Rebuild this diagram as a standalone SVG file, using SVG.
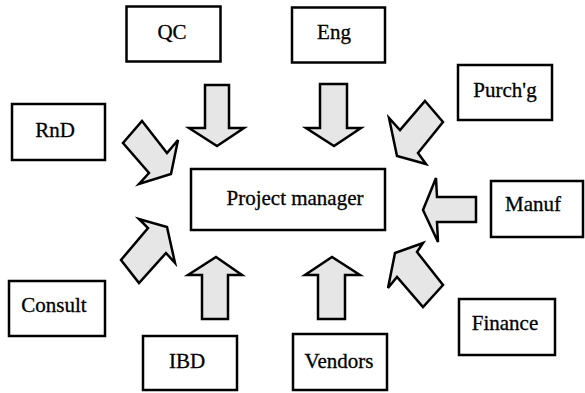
<svg xmlns="http://www.w3.org/2000/svg" width="585" height="393" viewBox="0 0 585 393">
<style>
.box{fill:#fff;stroke:#000;stroke-width:2.5}
.arr{fill:#e6e6e6;stroke:#000;stroke-width:2.5;stroke-linejoin:miter}
</style>
<rect width="585" height="393" fill="#fff"/>
<g id="connectors">
<polygon class="arr" points="205,85 229,85 229,128 244,128 217,146 189,128 205,128"/>
<polygon class="arr" points="320,84 347,84 347,128 361,128 334,146 306,128 320,128"/>
<polygon class="arr" points="142,121 167,153 178,140 171,174 139,184 149,173 123,143"/>
<polygon class="arr" points="425,101 443,122 418,153 426,164 397,156 389,118 400,130"/>
<polygon class="arr" points="476,197 476,222 437,222 438,242 423,210 436,178 437,197"/>
<polygon class="arr" points="423,243 417,252 443,285 423,307 397,277 388,288 395,253"/>
<polygon class="arr" points="139,219 148,228 121,260 139,283 166,253 175,263 167,227"/>
<polygon class="arr" points="202,319 228,319 228,275 242,275 216,257 188,275 202,275"/>
<polygon class="arr" points="318,319 345,319 345,275 360,275 332,257 305,275 318,275"/>
</g>
<g font-family="Liberation Serif, Times New Roman, serif" font-size="21" fill="#000" stroke="#000" stroke-width="0.3" text-anchor="middle">
<g id="pm"><rect class="box" x="191" y="169" width="194" height="61"/><text x="295" y="205">Project manager</text></g>
<g id="qc"><rect class="box" x="126.5" y="6.5" width="94" height="55"/><text x="172" y="39">QC</text></g>
<g id="eng"><rect class="box" x="292" y="7.5" width="93" height="55"/><text x="334" y="39">Eng</text></g>
<g id="rnd"><rect class="box" x="12" y="104" width="93" height="56"/><text x="55" y="137">RnD</text></g>
<g id="purchg"><rect class="box" x="458" y="65" width="94" height="55"/><text x="505" y="97">Purch'g</text></g>
<g id="manuf"><rect class="box" x="491" y="181" width="92" height="56"/><text x="533" y="211">Manuf</text></g>
<g id="consult"><rect class="box" x="9" y="281" width="96" height="55"/><text x="54" y="312">Consult</text></g>
<g id="ibd"><rect class="box" x="143" y="336" width="94" height="54"/><text x="187" y="368">IBD</text></g>
<g id="vendors"><rect class="box" x="293" y="334" width="94" height="56"/><text x="339" y="368">Vendors</text></g>
<g id="finance"><rect class="box" x="459" y="299" width="96" height="56"/><text x="505" y="330">Finance</text></g>
</g>
</svg>
